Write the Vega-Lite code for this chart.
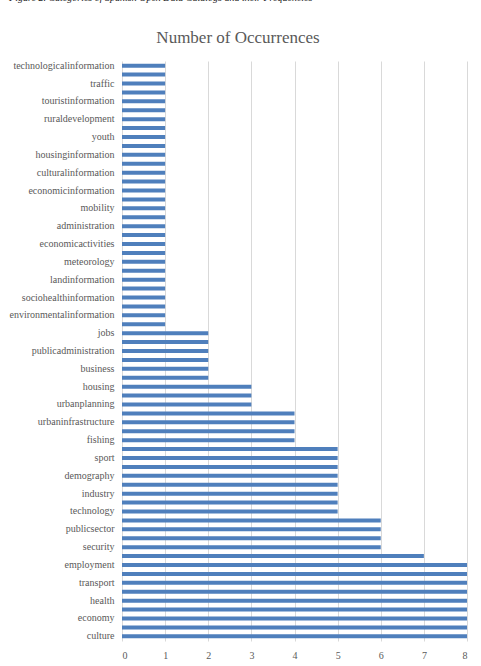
{
  "$schema": "https://vega.github.io/schema/vega-lite/v6.json",
  "background": "white",
  "padding": {"top": -7, "left": 9, "right": 9, "bottom": 4},
  "title": {
    "text": "Figure 2. Categories of Spanish Open Data Catalogs and their Frequencies",
    "anchor": "start",
    "font": "Liberation Serif",
    "fontStyle": "italic",
    "fontWeight": "normal",
    "fontSize": 10,
    "color": "#222222",
    "offset": 26
  },
  "config": {
    "view": {"stroke": null},
    "font": "Liberation Serif"
  },
  "vconcat": [
    {
      "title": {
        "text": "Number of Occurrences",
        "anchor": "middle",
        "frame": "bounds",
        "font": "Liberation Serif",
        "fontWeight": "normal",
        "fontSize": 17,
        "color": "#595959",
        "offset": 13
      },
      "width": 345,
      "height": 580,
      "data": {
        "values": [
          {"category": "technologicalinformation", "count": 1},
          {"category": "science", "count": 1},
          {"category": "traffic", "count": 1},
          {"category": "tourism", "count": 1},
          {"category": "touristinformation", "count": 1},
          {"category": "statistics", "count": 1},
          {"category": "ruraldevelopment", "count": 1},
          {"category": "agriculture", "count": 1},
          {"category": "youth", "count": 1},
          {"category": "elderly", "count": 1},
          {"category": "housinginformation", "count": 1},
          {"category": "consumption", "count": 1},
          {"category": "culturalinformation", "count": 1},
          {"category": "leisure", "count": 1},
          {"category": "economicinformation", "count": 1},
          {"category": "commerce", "count": 1},
          {"category": "mobility", "count": 1},
          {"category": "citizenship", "count": 1},
          {"category": "administration", "count": 1},
          {"category": "legislation", "count": 1},
          {"category": "economicactivities", "count": 1},
          {"category": "treasury", "count": 1},
          {"category": "meteorology", "count": 1},
          {"category": "territory", "count": 1},
          {"category": "landinformation", "count": 1},
          {"category": "cartography", "count": 1},
          {"category": "sociohealthinformation", "count": 1},
          {"category": "welfare", "count": 1},
          {"category": "environmentalinformation", "count": 1},
          {"category": "energy", "count": 1},
          {"category": "jobs", "count": 2},
          {"category": "education", "count": 2},
          {"category": "publicadministration", "count": 2},
          {"category": "society", "count": 2},
          {"category": "business", "count": 2},
          {"category": "justice", "count": 2},
          {"category": "housing", "count": 3},
          {"category": "infrastructure", "count": 3},
          {"category": "urbanplanning", "count": 3},
          {"category": "socialservices", "count": 4},
          {"category": "urbaninfrastructure", "count": 4},
          {"category": "publictransport", "count": 4},
          {"category": "fishing", "count": 4},
          {"category": "trade", "count": 5},
          {"category": "sport", "count": 5},
          {"category": "environment", "count": 5},
          {"category": "demography", "count": 5},
          {"category": "urbanism", "count": 5},
          {"category": "industry", "count": 5},
          {"category": "ruralenvironment", "count": 5},
          {"category": "technology", "count": 5},
          {"category": "leisureandculture", "count": 6},
          {"category": "publicsector", "count": 6},
          {"category": "economicsector", "count": 6},
          {"category": "security", "count": 6},
          {"category": "sciencetechnology", "count": 7},
          {"category": "employment", "count": 8},
          {"category": "touristsector", "count": 8},
          {"category": "transport", "count": 8},
          {"category": "environmentalquality", "count": 8},
          {"category": "health", "count": 8},
          {"category": "socialwelfare", "count": 8},
          {"category": "economy", "count": 8},
          {"category": "finance", "count": 8},
          {"category": "culture", "count": 8}
        ]
      },
      "mark": {"type": "bar", "color": "#4f7fbc"},
      "encoding": {
        "y": {
          "field": "category",
          "type": "nominal",
          "sort": null,
          "title": null,
          "scale": {"paddingInner": 0.55, "paddingOuter": 0.3},
          "axis": {
            "values": [
              "technologicalinformation", "traffic", "touristinformation", "ruraldevelopment",
              "youth", "housinginformation", "culturalinformation", "economicinformation",
              "mobility", "administration", "economicactivities", "meteorology",
              "landinformation", "sociohealthinformation", "environmentalinformation", "jobs",
              "publicadministration", "business", "housing", "urbanplanning",
              "urbaninfrastructure", "fishing", "sport", "demography", "industry",
              "technology", "publicsector", "security", "employment", "transport",
              "health", "economy", "culture"
            ],
            "ticks": false,
            "domain": false,
            "labelPadding": 8,
            "labelFont": "Liberation Serif",
            "labelFontSize": 10,
            "labelColor": "#595959"
          }
        },
        "x": {
          "field": "count",
          "type": "quantitative",
          "title": null,
          "scale": {"domain": [0, 8], "nice": false},
          "axis": {
            "values": [0, 1, 2, 3, 4, 5, 6, 7, 8],
            "ticks": false,
            "domain": false,
            "grid": true,
            "gridColor": "#d9d9d9",
            "gridWidth": 1,
            "labelPadding": 9,
            "labelFont": "Liberation Serif",
            "labelFontSize": 10,
            "labelColor": "#595959"
          }
        }
      }
    }
  ]
}
